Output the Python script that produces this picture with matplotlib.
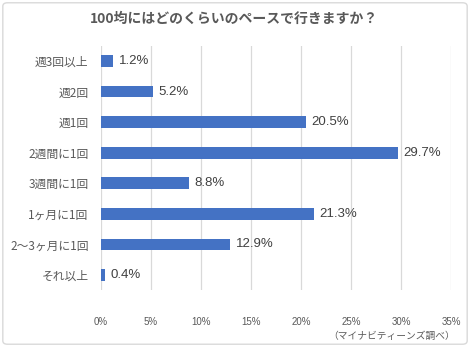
import matplotlib
matplotlib.use("Agg")
import matplotlib.pyplot as plt
from matplotlib.patches import FancyBboxPatch

plt.rcParams['font.family'] = ['Noto Sans CJK JP', 'DejaVu Sans']

# data
categories = ['週3回以上', '週2回', '週1回', '2週間に1回', '3週間に1回',
              '1ヶ月に1回', '2〜3ヶ月に1回', 'それ以上']
values = [1.2, 5.2, 20.5, 29.7, 8.8, 21.3, 12.9, 0.4]
xticks = [0, 5, 10, 15, 20, 25, 30, 35]
title = '100均にはどのくらいのペースで行きますか？'
source = '（マイナビティーンズ調べ）'

bar_color = '#4472C4'
txt_color = '#595959'

fig = plt.figure(figsize=(4.70, 3.47), dpi=100)
ax = fig.add_axes([0.2149, 0.1634, 0.745, 0.705])

# outer border
fig.patches.append(FancyBboxPatch((0.006, 0.008), 0.988, 0.984,
                                  boxstyle='round,pad=0,rounding_size=0.01',
                                  transform=fig.transFigure, fill=False,
                                  edgecolor='#D9D9D9', linewidth=1.0))

ypos = list(range(len(categories)))
ax.barh(ypos, values, height=0.38, color=bar_color, zorder=3)
ax.set_ylim(len(categories) - 0.5, -0.5)
ax.set_xlim(0, 35)
ax.set_yticks(ypos)
ax.set_yticklabels(categories, fontsize=8.5, color=txt_color)
ax.set_xticks(xticks)
ax.set_xticklabels([f'{t}%' for t in xticks], fontsize=7, color=txt_color,
                   family=['Liberation Sans', 'DejaVu Sans'])
ax.tick_params(axis='both', length=0)
ax.tick_params(axis='y', pad=9)
ax.tick_params(axis='x', pad=19)
ax.grid(axis='x', color='#D9D9D9', linewidth=0.9, zorder=0)
for s in ax.spines.values():
    s.set_visible(False)

for y, v in zip(ypos, values):
    ax.annotate(f'{v}%', (v, y), xytext=(4, 0), textcoords='offset points',
                va='center', ha='left', fontsize=9.5, color='#404040',
                family=['Liberation Sans', 'DejaVu Sans'])

fig.text(0.497, 0.945, title, ha='center', va='center', fontsize=10,
         fontweight='bold', color=txt_color)
fig.text(0.968, 0.033, source, ha='right', va='center', fontsize=7,
         color=txt_color)

fig.savefig('out.png', dpi=100)
